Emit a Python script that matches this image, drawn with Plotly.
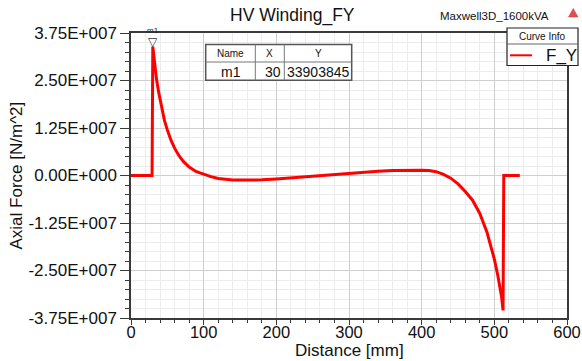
import plotly.graph_objects as go

# ---------------- data ----------------
distance_mm = [0, 29, 30, 32, 35, 38, 42, 46, 50, 55, 60, 66, 72, 80, 90, 100, 110, 120,
               130, 140, 160, 180, 200, 220, 240, 260, 280, 300, 320, 340, 360, 380, 400,
               410, 420, 430, 440, 450, 460, 470, 480, 490, 500, 505, 510, 512, 513, 535]
axial_force = [0, 0, 3.39e7, 3.00e7, 2.55e7, 2.20e7, 1.80e7, 1.45e7, 1.20e7, 0.93e7, 0.72e7,
               0.52e7, 0.37e7, 0.22e7, 0.10e7, 0.03e7, -0.03e7, -0.08e7,
               -0.11e7, -0.12e7, -0.12e7, -0.115e7, -0.09e7, -0.06e7, -0.03e7, 0.0, 0.03e7,
               0.06e7, 0.08e7, 0.11e7, 0.13e7, 0.14e7, 0.14e7,
               0.13e7, 0.10e7, 0.03e7, -0.07e7, -0.22e7, -0.42e7, -0.65e7, -1.0e7, -1.5e7,
               -2.2e7, -2.65e7, -3.2e7, -3.55e7, 0, 0]

marker_name = "m1"
marker_x = 30
marker_y = 33903845

x_tickvals = [0, 100, 200, 300, 400, 500, 600]
x_ticktext = ["0", "100", "200", "300", "400", "500", "600"]
y_tickvals = [3.75e7, 2.5e7, 1.25e7, 0, -1.25e7, -2.5e7, -3.75e7]
y_ticktext = ["3.75E+007", "2.50E+007", "1.25E+007", "0.00E+000",
              "-1.25E+007", "-2.50E+007", "-3.75E+007"]

title_text = "HV Winding_FY"
project_text = "Maxwell3D_1600kVA"
series_name = "F_Y"
x_title = "Distance [mm]"
y_title = "Axial Force [N/m^2]"

# ---------------- layout helpers ----------------
W, H = 582, 361
L, R, T, B = 131, 567, 33, 318


def px(x):
    return (x - L) / (R - L)


def py(y):
    return (B - y) / (B - T)


FONT = "Liberation Sans, Arial, sans-serif"

fig = go.Figure()
fig.add_trace(go.Scatter(
    x=distance_mm, y=axial_force, mode="lines", name=series_name,
    line=dict(color="#ff0000", width=3), showlegend=False, cliponaxis=False,
))

axis_common = dict(
    showline=True, linecolor="#3a3a3a", linewidth=1.5, mirror=True, automargin=False,
    ticks="outside", tickcolor="#3a3a3a", showgrid=True, gridcolor="#cfcfcf",
    gridwidth=1, zeroline=False,
)

fig.update_xaxes(
    range=[0, 600], tickmode="array", tickvals=x_tickvals, ticktext=x_ticktext,
    ticklen=5, ticklabelstandoff=-7, tickfont=dict(family=FONT, size=16.5, color="#111"),
    minor=dict(dtick=20, tick0=0, ticks="outside", ticklen=3, tickcolor="#3a3a3a",
               showgrid=True, gridcolor="#ececec", gridwidth=1),
    **axis_common,
)
fig.update_yaxes(
    range=[-3.75e7, 3.75e7], tickmode="array", tickvals=y_tickvals, ticktext=y_ticktext,
    ticklen=9, tickfont=dict(family=FONT, size=17, color="#111"),
    minor=dict(dtick=0.25e7, tick0=0, ticks="outside", ticklen=4, tickcolor="#3a3a3a",
               showgrid=True, gridcolor="#ececec", gridwidth=1),
    **axis_common,
)

annotations = []
# title & project name
annotations.append(dict(text=title_text, x=px(292), y=py(15.5), xref="paper", yref="paper",
                        showarrow=False, xanchor="center", yanchor="middle",
                        font=dict(family=FONT, size=17.5, color="#111")))
annotations.append(dict(text=project_text, x=px(551), y=py(16), xref="paper", yref="paper",
                        showarrow=False, xanchor="right", yanchor="middle",
                        font=dict(family=FONT, size=11.5, color="#111")))
# axis titles
annotations.append(dict(text=x_title, x=px(349), y=py(350), xref="paper", yref="paper",
                        showarrow=False, xanchor="center", yanchor="middle",
                        font=dict(family=FONT, size=17, color="#111")))
annotations.append(dict(text=y_title, x=px(16), y=py(175.5), xref="paper", yref="paper",
                        showarrow=False, xanchor="center", yanchor="middle", textangle=-90,
                        font=dict(family=FONT, size=17, color="#111")))
# marker glyph and label
annotations.append(dict(text="▽", x=marker_x, y=marker_y, xref="x", yref="y",
                        showarrow=False, xanchor="center", yanchor="middle", yshift=5,
                        font=dict(family="DejaVu Sans", size=12, color="#333")))
annotations.append(dict(text=marker_name, x=marker_x, y=marker_y, xref="x", yref="y",
                        showarrow=False, xanchor="center", yanchor="middle", yshift=16,
                        font=dict(family=FONT, size=8, color="#222")))

shapes = []
# marker table
tl, tr, tt, tb, tm = 205.7, 351.7, 44.5, 80.3, 62
c1, c2 = 255.3, 284.3
shapes.append(dict(type="rect", xref="paper", yref="paper", x0=px(tl), x1=px(tr),
                   y0=py(tb), y1=py(tt), fillcolor="white",
                   line=dict(color="#555", width=1.5), layer="above"))
for yy in [tm]:
    shapes.append(dict(type="line", xref="paper", yref="paper", x0=px(tl), x1=px(tr),
                       y0=py(yy), y1=py(yy), line=dict(color="#777", width=1), layer="above"))
for xx in [c1, c2]:
    shapes.append(dict(type="line", xref="paper", yref="paper", x0=px(xx), x1=px(xx),
                       y0=py(tb), y1=py(tt), line=dict(color="#777", width=1), layer="above"))

hdr_y, row_y = 53.5, 71.5
for txt, cx in [("Name", (tl + c1) / 2), ("X", (c1 + c2) / 2), ("Y", (c2 + tr) / 2)]:
    annotations.append(dict(text=txt, x=px(cx), y=py(hdr_y), xref="paper", yref="paper",
                            showarrow=False, xanchor="center", yanchor="middle",
                            font=dict(family=FONT, size=10, color="#111")))
annotations.append(dict(text=marker_name, x=px((tl + c1) / 2), y=py(row_y), xref="paper",
                        yref="paper", showarrow=False, xanchor="center", yanchor="middle",
                        font=dict(family=FONT, size=14, color="#111")))
annotations.append(dict(text=str(marker_x), x=px(c2 - 1.5), y=py(row_y), xref="paper",
                        yref="paper", showarrow=False, xanchor="right", yanchor="middle",
                        font=dict(family=FONT, size=14, color="#111")))
annotations.append(dict(text=str(marker_y), x=px((c2 + tr) / 2), y=py(row_y), xref="paper",
                        yref="paper", showarrow=False, xanchor="center", yanchor="middle",
                        font=dict(family=FONT, size=14, color="#111")))

# curve info box
bl, br, bt, bb, bm = 507, 578, 28, 65.5, 44
shapes.append(dict(type="rect", xref="paper", yref="paper", x0=px(bl), x1=px(br),
                   y0=py(bb), y1=py(bt), fillcolor="white",
                   line=dict(color="#222", width=1.2), layer="above"))
shapes.append(dict(type="line", xref="paper", yref="paper", x0=px(bl), x1=px(br),
                   y0=py(bm), y1=py(bm), line=dict(color="#666", width=1), layer="above"))
shapes.append(dict(type="line", xref="paper", yref="paper", x0=px(510), x1=px(532),
                   y0=py(55.3), y1=py(55.3), line=dict(color="#ff0000", width=2), layer="above"))
annotations.append(dict(text="Curve Info", x=px((bl + br) / 2), y=py(36), xref="paper",
                        yref="paper", showarrow=False, xanchor="center", yanchor="middle",
                        font=dict(family=FONT, size=10, color="#111")))
annotations.append(dict(text=series_name, x=px(561), y=py(55.5), xref="paper", yref="paper",
                        showarrow=False, xanchor="center", yanchor="middle",
                        font=dict(family=FONT, size=17, color="#111")))

# small logo triangle
lx0, lx1, ly_top, ly_bot = 568.5, 578, 8.5, 17
path = "M {} {} L {} {} L {} {} Z".format(px(lx0), py(ly_bot), px((lx0 + lx1) / 2), py(ly_top),
                                            px(lx1), py(ly_bot))
shapes.append(dict(type="path", xref="paper", yref="paper", path=path,
                   fillcolor="#e05050", line=dict(color="#c83232", width=0.5), layer="above"))

fig.update_layout(
    width=W, height=H, margin=dict(l=L, r=W - R, t=T, b=H - B, pad=0, autoexpand=False),
    paper_bgcolor="white", plot_bgcolor="white", showlegend=False,
    annotations=annotations, shapes=shapes,
    font=dict(family=FONT, color="#111"),
)

fig.write_html("out.html")
